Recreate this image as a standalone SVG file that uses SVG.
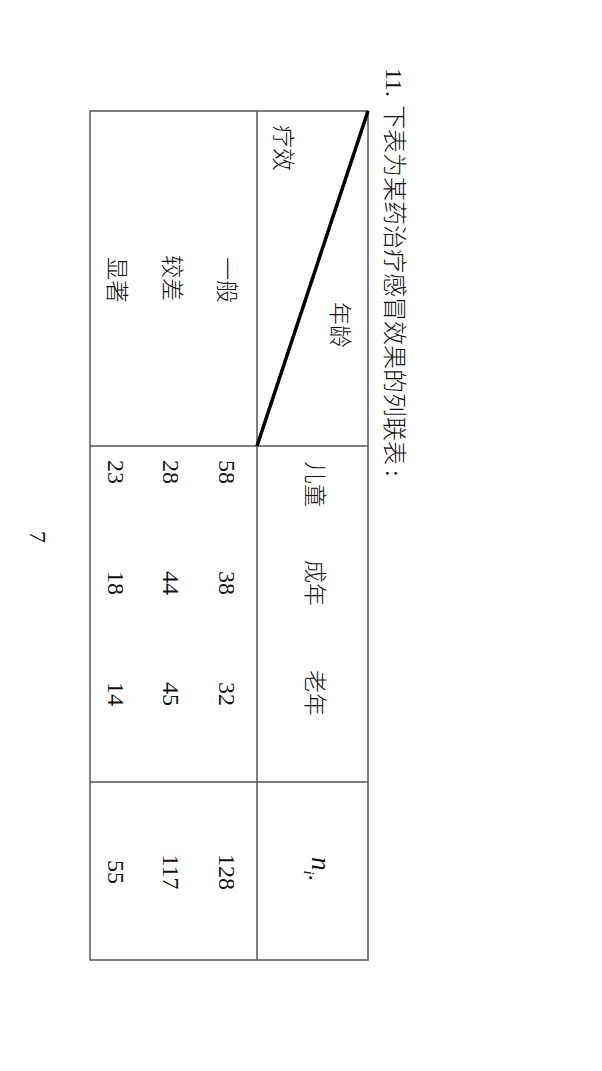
<svg xmlns="http://www.w3.org/2000/svg" width="602" height="1071" viewBox="0 0 602 1071">
<style>
.cjk{font-family:"Noto Sans CJK SC","Noto Sans CJK JP",sans-serif;font-size:23px;font-weight:300;fill:#111;text-anchor:middle}
.num{font-family:"Liberation Serif","Times New Roman",serif;font-size:24px;fill:#111;text-anchor:middle}
.ser{font-family:"Liberation Serif","Times New Roman",serif}
.grid{stroke:#555;stroke-width:1.5;fill:none}
.diag{stroke:#000;stroke-width:3.5}
</style>
<rect x="0" y="0" width="602" height="1071" fill="#fff"/>
<g transform="translate(602,0) rotate(90)">
  <g id="title">
    <text y="216" font-size="24" fill="#111"><tspan class="ser" x="68">11.</tspan><tspan x="105" font-family="Noto Sans CJK SC, sans-serif" font-weight="300">下表为某药治疗感冒效果的列联表</tspan><tspan class="ser" x="470">:</tspan></text>
  </g>
  <g id="connectors">
    <rect class="grid" x="111" y="234" width="849" height="278"/>
    <line class="grid" x1="111" y1="345" x2="960" y2="345"/>
    <line class="grid" x1="446" y1="234" x2="446" y2="512"/>
    <line class="grid" x1="782" y1="234" x2="782" y2="512"/>
    <line class="diag" x1="111" y1="234" x2="446" y2="345"/>
  </g>
  <g id="header-corner">
    <text class="cjk" x="325" y="270">年龄</text>
    <text class="cjk" x="148" y="327">疗效</text>
  </g>
  <g id="col-children"><text class="cjk" x="484" y="295">儿童</text></g>
  <g id="col-adult"><text class="cjk" x="583" y="295">成年</text></g>
  <g id="col-elder"><text class="cjk" x="693" y="295">老年</text></g>
  <g id="col-total">
    <text class="ser" x="857" y="290" font-size="27" font-style="italic" fill="#111">n<tspan font-size="15" dy="8">i</tspan><tspan font-size="18" font-style="normal" font-weight="bold" dy="0">·</tspan></text>
  </g>
  <g id="row-general">
    <text class="cjk" x="280" y="383">一般</text>
    <text class="num" x="472" y="383">58</text>
    <text class="num" x="583" y="383">38</text>
    <text class="num" x="694" y="383">32</text>
    <text class="num" x="872" y="383">128</text>
  </g>
  <g id="row-poor">
    <text class="cjk" x="278" y="438">较差</text>
    <text class="num" x="472" y="439">28</text>
    <text class="num" x="583" y="439">44</text>
    <text class="num" x="694" y="439">45</text>
    <text class="num" x="872" y="439">117</text>
  </g>
  <g id="row-notable">
    <text class="cjk" x="280" y="493">显著</text>
    <text class="num" x="472" y="494">23</text>
    <text class="num" x="583" y="494">18</text>
    <text class="num" x="694" y="494">14</text>
    <text class="num" x="872" y="494">55</text>
  </g>
  <g id="page-number">
    <text class="num" x="537" y="572" font-size="22">7</text>
  </g>
</g>
</svg>
